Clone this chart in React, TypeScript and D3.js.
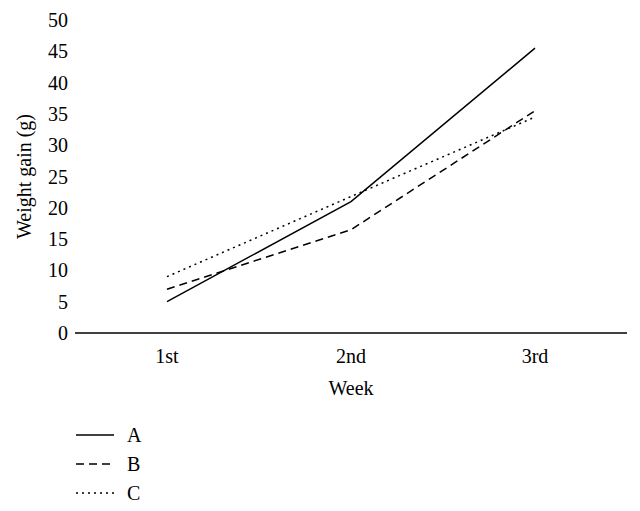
import React, { useEffect, useRef } from "react";
import * as d3 from "d3";

const weeks = ["1st", "2nd", "3rd"];
const seriesA = [5, 21, 45.5];
const seriesB = [7, 16.5, 35.5];
const seriesC = [9, 21.8, 34.5];
const seriesNames = ["A", "B", "C"];
const yTicks = [0, 5, 10, 15, 20, 25, 30, 35, 40, 45, 50];

const App = () => {
  const ref = useRef<SVGSVGElement>(null);

  useEffect(() => {
    const svg = d3.select(ref.current);
    svg.selectAll("*").remove();

    const font = "'Liberation Serif', 'DejaVu Serif', serif";
    const margin = { top: 20, right: 13, bottom: 178, left: 75 };
    const width = 640 - margin.left - margin.right;
    const height = 511 - margin.top - margin.bottom;

    const g = svg.append("g").attr("transform", `translate(${margin.left},${margin.top})`);

    const x = d3.scalePoint().domain(weeks).range([0, width]).padding(0.5);
    const y = d3.scaleLinear().domain([0, 50]).range([height, 0]);

    // x axis line
    g.append("line")
      .attr("x1", 0).attr("x2", width)
      .attr("y1", height).attr("y2", height)
      .attr("stroke", "#000").attr("stroke-width", 1.5);

    g.selectAll(".xt")
      .data(weeks)
      .enter().append("text")
      .attr("x", d => x(d)!)
      .attr("y", height + 30)
      .attr("text-anchor", "middle")
      .attr("font-family", font).attr("font-size", 20)
      .text(d => d);

    g.selectAll(".yt")
      .data(yTicks)
      .enter().append("text")
      .attr("x", -7)
      .attr("y", d => y(d))
      .attr("dy", "0.35em")
      .attr("text-anchor", "end")
      .attr("font-family", font).attr("font-size", 20)
      .text(d => d);

    g.append("text")
      .attr("x", width / 2).attr("y", height + 62)
      .attr("text-anchor", "middle")
      .attr("font-family", font).attr("font-size", 20)
      .text("Week");

    g.append("text")
      .attr("transform", `translate(-44,${height / 2}) rotate(-90)`)
      .attr("text-anchor", "middle")
      .attr("font-family", font).attr("font-size", 20)
      .text("Weight gain (g)");

    const dashes = [null, "8,5", "2,4"];
    const all = [seriesA, seriesB, seriesC];
    const line = d3.line<number>()
      .x((_, i) => x(weeks[i])!)
      .y(d => y(d));

    all.forEach((s, i) => {
      g.append("path")
        .datum(s)
        .attr("d", line)
        .attr("fill", "none")
        .attr("stroke", "#000")
        .attr("stroke-width", 1.5)
        .attr("stroke-dasharray", dashes[i]);
    });

    // legend
    const leg = svg.append("g").attr("transform", "translate(76,435)");
    seriesNames.forEach((n, i) => {
      leg.append("line")
        .attr("x1", 0).attr("x2", 38)
        .attr("y1", i * 29).attr("y2", i * 29)
        .attr("stroke", "#000").attr("stroke-width", 1.5)
        .attr("stroke-dasharray", dashes[i]);
      leg.append("text")
        .attr("x", 51).attr("y", i * 29)
        .attr("dy", "0.35em")
        .attr("font-family", font).attr("font-size", 20)
        .text(n);
    });
  }, []);

  return <svg ref={ref} width={640} height={511} style={{ display: "block", position: "absolute", left: 0, top: 0 }} />;
};

export default App;
